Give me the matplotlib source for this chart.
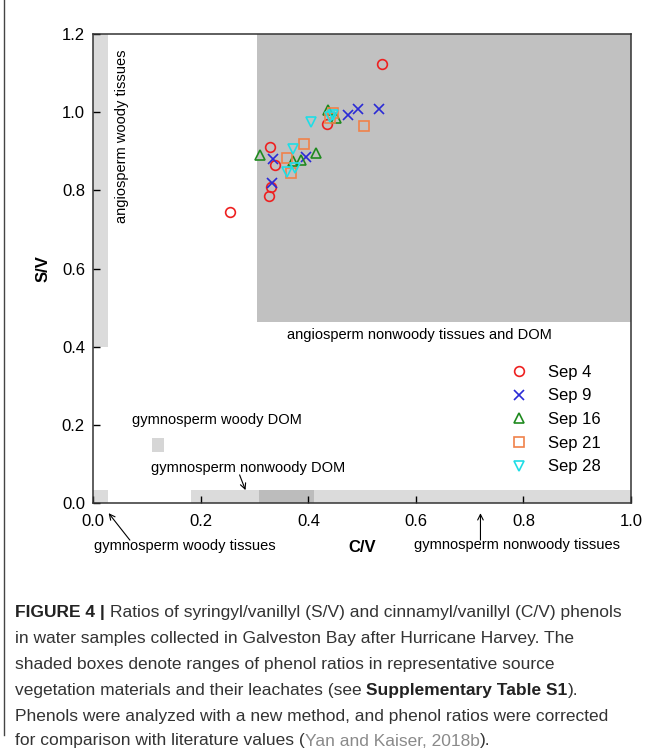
import matplotlib
matplotlib.use("Agg")
import matplotlib.pyplot as plt
from matplotlib.patches import Rectangle
from matplotlib.lines import Line2D

plt.rcParams['font.family'] = ['Liberation Sans', 'DejaVu Sans']

# --- data --------------------------------------------------------------
series = ["Sep 4", "Sep 9", "Sep 16", "Sep 21", "Sep 28"]
sep4_cv = [0.255, 0.327, 0.330, 0.329, 0.337, 0.434, 0.536]
sep4_sv = [0.744, 0.786, 0.808, 0.912, 0.866, 0.970, 1.123]
sep9_cv = [0.333, 0.335, 0.396, 0.474, 0.493, 0.531]
sep9_sv = [0.818, 0.880, 0.886, 0.992, 1.009, 1.008]
sep16_cv = [0.310, 0.372, 0.387, 0.415, 0.436, 0.452]
sep16_sv = [0.890, 0.875, 0.878, 0.895, 1.006, 0.984]
sep21_cv = [0.360, 0.368, 0.392, 0.446, 0.440, 0.504]
sep21_sv = [0.882, 0.845, 0.919, 0.997, 0.985, 0.966]
sep28_cv = [0.360, 0.371, 0.376, 0.405, 0.441, 0.445]
sep28_sv = [0.848, 0.905, 0.858, 0.976, 0.988, 0.993]

# source ranges: (cv_min, cv_max, sv_min, sv_max)
angio_woody = (0.0, 0.027, 0.40, 1.20)
angio_nonwoody = (0.304, 1.0, 0.464, 1.20)
gymno_woody_dom = (0.109, 0.131, 0.130, 0.166)
gymno_woody_tis = (0.0, 0.027, 0.0, 0.034)
gymno_nonwoody_dom = (0.181, 0.411, 0.0, 0.034)
gymno_nonwoody_tis = (0.308, 1.0, 0.0, 0.034)

xticks = [0.0, 0.2, 0.4, 0.6, 0.8, 1.0]
yticks = [0.0, 0.2, 0.4, 0.6, 0.8, 1.0, 1.2]

styles = {
    "Sep 4": dict(marker="o", color="#ee2020"),
    "Sep 9": dict(marker="x", color="#2a2ad6"),
    "Sep 16": dict(marker="^", color="#1f8a1f"),
    "Sep 21": dict(marker="s", color="#f0824a"),
    "Sep 28": dict(marker="v", color="#1fdde6"),
}
xs = [sep4_cv, sep9_cv, sep16_cv, sep21_cv, sep28_cv]
ys = [sep4_sv, sep9_sv, sep16_sv, sep21_sv, sep28_sv]


def box(ax, r, alpha):
    ax.add_patch(Rectangle((r[0], r[2]), r[1] - r[0], r[3] - r[2],
                           facecolor="black", alpha=alpha, lw=0, zorder=1))


fig = plt.figure(figsize=(6.7, 7.5), dpi=100)
ax = fig.add_axes([0.1393, 0.3293, 0.8025, 0.6253])
ax.set_xlim(0, 1.0)
ax.set_ylim(0, 1.2)

box(ax, angio_woody, 0.14)
box(ax, angio_nonwoody, 0.245)
box(ax, gymno_woody_dom, 0.16)
box(ax, gymno_woody_tis, 0.14)
box(ax, gymno_nonwoody_dom, 0.14)
box(ax, gymno_nonwoody_tis, 0.14)

for name, x, y in zip(series, xs, ys):
    st = styles[name]
    if st["marker"] == "x":
        ax.plot(x, y, ls="none", marker="x", color=st["color"], ms=7,
                mew=1.2, label=name, zorder=3)
    else:
        ax.plot(x, y, ls="none", marker=st["marker"], ms=7,
                mfc="none", mec=st["color"], mew=1.2, label=name, zorder=3)

ax.set_xticks(xticks)
ax.set_yticks(yticks)
ax.set_xticklabels([f"{v:.1f}" for v in xticks])
ax.set_yticklabels([f"{v:.1f}" for v in yticks])
ax.tick_params(direction="in", length=5, width=1, labelsize=12,
               top=False, right=False)
ax.tick_params(axis="x", pad=8)
ax.tick_params(axis="y", pad=6)
for s in ax.spines.values():
    s.set_linewidth(1.1)
    s.set_color("#333333")

ax.set_ylabel("S/V", fontsize=12, fontweight="bold")
ax.yaxis.set_label_coords(-0.08, 0.5)
ax.text(0.5, -0.115, "C/V", fontsize=12, fontweight="bold",
        ha="center", va="center", clip_on=False)

fs = 10.5
ax.text(0.0525, 1.16, "angiosperm woody tissues", rotation=90,
        ha="center", va="top", fontsize=fs)
ax.text(0.36, 0.43, "angiosperm nonwoody tissues and DOM",
        ha="left", va="center", fontsize=fs)
ax.text(0.071, 0.212, "gymnosperm woody DOM", ha="left", va="center",
        fontsize=fs)
ax.text(0.108, 0.090, "gymnosperm nonwoody DOM", ha="left", va="center",
        fontsize=fs)
ax.text(0.001, -0.110, "gymnosperm woody tissues", ha="left", va="center",
        fontsize=fs, clip_on=False)
ax.text(0.597, -0.108, "gymnosperm nonwoody tissues", ha="left",
        va="center", fontsize=fs, clip_on=False)

arw = dict(arrowstyle="->", lw=0.8, color="black", shrinkA=0, shrinkB=0)
ax.annotate("", xy=(0.283, 0.033), xytext=(0.272, 0.072), arrowprops=arw)
ax.annotate("", xy=(0.0285, -0.026), xytext=(0.068, -0.095),
            arrowprops=arw, annotation_clip=False)
ax.annotate("", xy=(0.72, -0.026), xytext=(0.72, -0.095),
            arrowprops=arw, annotation_clip=False)

ax.legend(loc="upper left", bbox_to_anchor=(0.777, 0.295), frameon=False,
          fontsize=12, handlelength=1.0, handletextpad=1.24,
          labelspacing=0.52, borderpad=0, borderaxespad=0)

# left frame line of the figure panel
fig.add_artist(Line2D([4 / 670, 4 / 670], [0.02, 1.0],
                      transform=fig.transFigure, color="#444444", lw=1))

# --- caption ------------------------------------------------------------
caption = [
    [("FIGURE 4 | ", "bold", "#222222"),
     ("Ratios of syringyl/vanillyl (S/V) and cinnamyl/vanillyl (C/V) phenols",
      "normal", "#333333")],
    [("in water samples collected in Galveston Bay after Hurricane Harvey. The",
      "normal", "#333333")],
    [("shaded boxes denote ranges of phenol ratios in representative source",
      "normal", "#333333")],
    [("vegetation materials and their leachates (see ", "normal", "#333333"),
     ("Supplementary Table S1", "bold", "#222222"),
     (").", "normal", "#333333")],
    [("Phenols were analyzed with a new method, and phenol ratios were corrected",
      "normal", "#333333")],
    [("for comparison with literature values (", "normal", "#333333"),
     ("Yan and Kaiser, 2018b", "normal", "#8a8a8a"),
     (").", "normal", "#333333")],
]
cap_y = [612, 638, 664, 690, 716, 741]
cap_fs = 12.5

fig.canvas.draw()
renderer = fig.canvas.get_renderer()
for line, ypx in zip(caption, cap_y):
    xpx = 15
    for txt, wt, col in line:
        t = fig.text(xpx / 670, 1 - ypx / 750, txt, fontsize=cap_fs,
                     fontweight=wt, color=col, ha="left", va="center")
        bb = t.get_window_extent(renderer=renderer)
        xpx += bb.width

fig.savefig("out.png", dpi=100)
